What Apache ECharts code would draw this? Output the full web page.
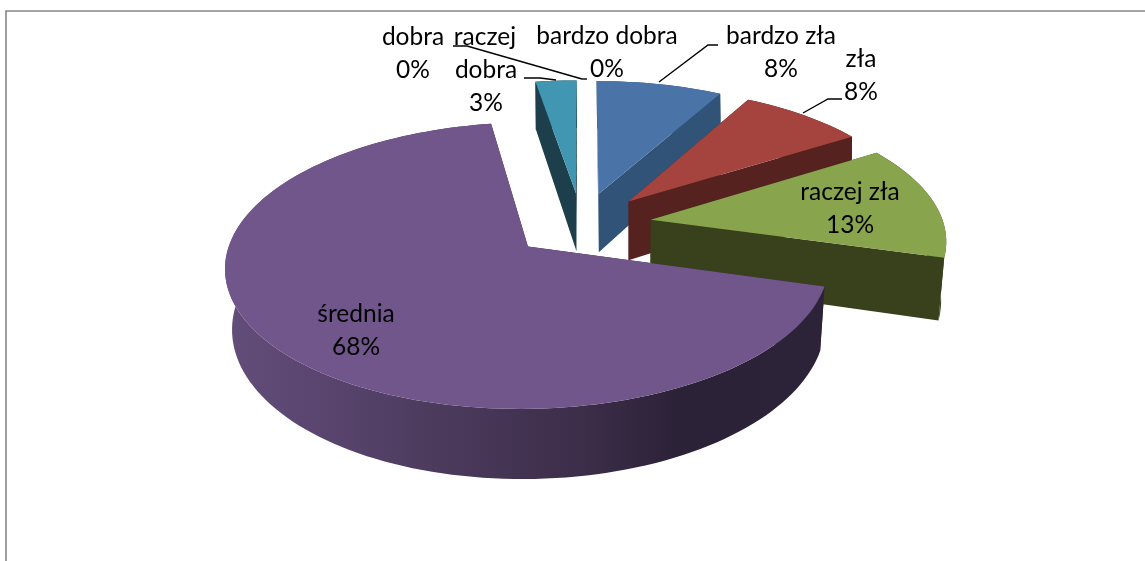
<!DOCTYPE html>
<html><head><meta charset="utf-8">
<style>html,body{margin:0;padding:0;background:#fff}#c{width:1145px;height:561px}</style>
<script src="https://cdn.jsdelivr.net/npm/echarts@6/dist/echarts.min.js"></script>
</head><body><div id="c"></div>
<script>
var categories=['bardzo zła','zła','raczej zła','średnia','dobra','raczej dobra','bardzo dobra'];
var values=[8,8,13.4,68,2.6,0,0];
var topColors=['#4a74a8','#a5443f','#88a44c','#71568b','#4197b1','#4197b1','#4a74a8'];
var wallColors=['#315377','#552220','#38411b','#2c2339','#1c3f4b','#1c3f4b','#315377'];
var drawOrder=[4,0,1,2,3];
var labelLines=[['bardzo zła','8%'],['zła','8%'],['raczej zła','13%'],['średnia','68%'],['dobra','3%'],['0%'],['bardzo dobra','0%']];
var labelAnchors=[[781,53],[861,76],[850,209],[356,331],[486,87],[413,70],[607,53]];
var extraLabels=[['dobra',413,37],['raczej',485,37]];
var leaders=[[[718,45],[708,45],[659,82]],[[842,99],[828,99],[803,113]],null,null,[[524,78],[540,78],[556,80]],[[453,46],[467,46],[582,79]],[[587,79],[582,79]]];

var EXPLODE=0.24;
var TOP={cx:581.5,cy:224.5,rx:293,k:135,a:0.13};
var BOT={cx:582,cy:285,rx:289,k:145,a:0.115};
var total=values.reduce(function(s,v){return s+v;},0);
var starts=[];values.reduce(function(s,v,i){starts[i]=s;return s+v;},0);
function rad(p){return p/total*Math.PI*2;}
function proj(pl,x,y){var s=1/(1+pl.a*y);return [pl.cx+pl.rx*x*s,pl.cy-pl.k*y*s];}
function pt(pl,i,th,r){var m=rad(starts[i]+values[i]/2);
  return proj(pl,EXPLODE*Math.sin(m)+r*Math.sin(th),EXPLODE*Math.cos(m)+r*Math.cos(th));}
function arc(pl,i){var out=[],a0=rad(starts[i]),a1=rad(starts[i]+values[i]),n=Math.max(6,Math.ceil(values[i]*2));
  for(var j=0;j<=n;j++)out.push(pt(pl,i,a0+(a1-a0)*j/n,1));return out;}
function poly(points,fill,z){return {type:'polygon',z2:z,shape:{points:points},style:{fill:fill,stroke:null}};}

function renderSlice(params,api){
  var i=api.value(0);
  var at=arc(TOP,i),ab=arc(BOT,i),ct=pt(TOP,i,0,0),cb=pt(BOT,i,0,0);
  var wall=wallColors[i];
  if(i===3){wall=new echarts.graphic.LinearGradient(0,0,1,0,[
    {offset:0,color:'#634d7a'},{offset:.12,color:'#5c4772'},{offset:.4,color:'#493859'},
    {offset:.6,color:'#3c2d49'},{offset:.75,color:'#2c2238'},{offset:1,color:'#2c2339'}]);}
  return {type:'group',children:[
    poly(at.concat(ab.slice().reverse()),wall,1),
    poly([ct,at[0],ab[0],cb],wallColors[i],2),
    poly([ct,at[at.length-1],ab[ab.length-1],cb],wallColors[i],2),
    poly([ct].concat(at),topColors[i],3)
  ]};
}
function renderLabel(params,api){
  var i=api.value(0),kids=[],lines=labelLines[i],a=labelAnchors[i];
  lines.forEach(function(t,j){
    var txt=t;
    if(j===lines.length-1)txt=Math.round(values[i])+'%';
    kids.push({type:'text',style:{text:txt,x:a[0],y:a[1]+(j-(lines.length-1)/2)*33,align:'center',verticalAlign:'middle',
      font:'24.5px Lato',fill:'#000'}});
  });
  if(leaders[i])kids.push({type:'polyline',shape:{points:leaders[i]},style:{stroke:'#000',lineWidth:1.4,fill:null}});
  return {type:'group',children:kids};
}
var chart=echarts.init(document.getElementById('c'),null,{renderer:'canvas'});
chart.setOption({
  animation:false,backgroundColor:'#fff',
  graphic:[
    {type:'polyline',z:0,shape:{points:[[6,561],[6,11],[1145,11]]},style:{stroke:'#868686',lineWidth:1.6,fill:null}}
  ].concat(extraLabels.map(function(l){return {type:'text',z:20,style:{text:l[0],x:l[1],y:l[2],align:'center',verticalAlign:'middle',font:'24.5px Lato',fill:'#000'}};})),
  series:[
    {type:'custom',coordinateSystem:'none',z:5,silent:true,renderItem:renderSlice,
      data:drawOrder.map(function(i){return [i,values[i]];})},
    {type:'custom',coordinateSystem:'none',z:10,silent:true,renderItem:renderLabel,
      data:categories.map(function(c,i){return {name:c,value:[i,values[i]]};})}
  ]
});
</script></body></html>
